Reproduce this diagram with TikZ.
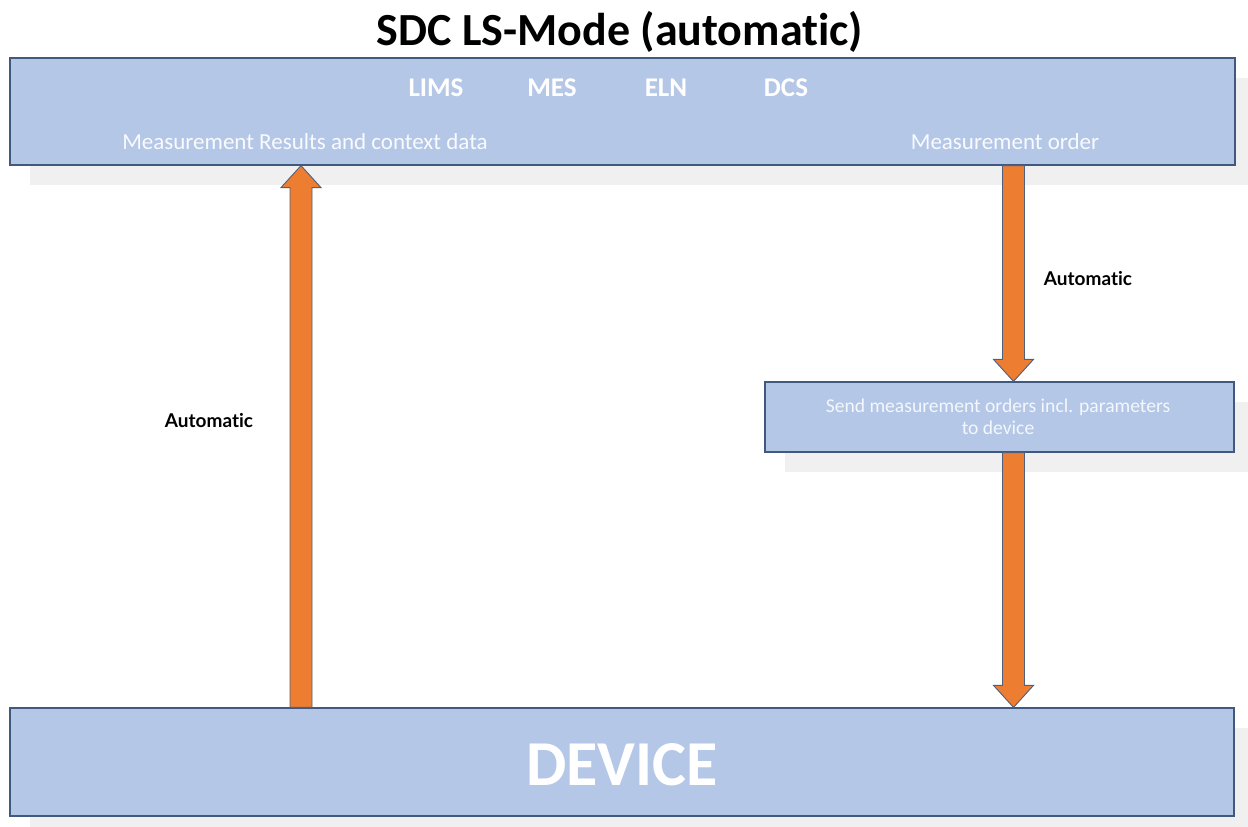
\documentclass[tikz,border=0pt]{standalone}
\usepackage{fontspec}
\setmainfont{Carlito}[Ligatures=CommonOff]
\newfontfamily\lblfont{Lato}[Ligatures=CommonOff]
\usetikzlibrary{calc,shadows}

\definecolor{boxblue}{HTML}{B4C7E7}
\definecolor{boxline}{HTML}{41587F}
\definecolor{arrorange}{HTML}{ED7D31}
\definecolor{arrline}{HTML}{4F5F7C}
\definecolor{shade}{HTML}{F0F0F0}

\tikzset{
  layer/.style={draw=boxline,line width=1.2pt,fill=boxblue,
    drop shadow={shadow xshift=20pt,shadow yshift=-20pt,fill=shade,opacity=1}},
  fat/.style={draw=arrline,line width=0.9pt,fill=arrorange,line join=miter},
  sysname/.style={text=white,font=\bfseries\fontsize{27}{31}\selectfont},
  inbox/.style={text=white!92!boxblue,font=\fontsize{23}{27}\selectfont},
  autolbl/.style={font=\lblfont\bfseries\fontsize{19}{22}\selectfont}
}

% block arrow, tip at the second point
\newcommand{\fatarrow}[2]{%
  \draw[fat] let \p1=(#1), \p2=(#2), \n1={sign(\y2-\y1)*22} in
    ({\x1-11pt},\y1) -- ({\x1-11pt},{\y2-(\n1)}) -- ({\x1-20pt},{\y2-(\n1)})
    -- (\x1,\y2) -- ({\x1+20pt},{\y2-(\n1)}) -- ({\x1+11pt},{\y2-(\n1)})
    -- ({\x1+11pt},\y1) -- cycle;}

\begin{document}
\begin{tikzpicture}[x=1pt,y=-1pt]
\useasboundingbox (0,0) rectangle (1248,827);
\clip (0,0) rectangle (1248,827);

\node[font=\bfseries\fontsize{46}{52}\selectfont] (title) at (620,32) {SDC LS-Mode (automatic)};

\node[layer,minimum width=1225,minimum height=107] (sdc) at (622.5,111.5) {};
\node[layer,minimum width=469,minimum height=70] (order) at (999.5,417) {};
\node[layer,minimum width=1224,minimum height=108] (device) at (622,762) {};

\node[sysname] (lims) at (436,88) {LIMS};
\node[sysname] (mes) at (552,88) {MES};
\node[sysname] (eln) at (666,88) {ELN};
\node[sysname] (dcs) at (786,88) {DCS};
\node[inbox] (results) at (305,142) {Measurement Results and context data};
\node[inbox] (morder) at (1005,142) {Measurement order};
\node[align=center,text=white!85!boxblue,font=\fontsize{19.6}{22}\selectfont] (send) at (998,417)
  {Send measurement orders incl. parameters\\to device};
\node[text=white,font=\bfseries\fontsize{64}{70}\selectfont] (devlbl) at (622,765) {DEVICE};

\coordinate (upx) at (301,0);
\coordinate (dnx) at (1013.5,0);
\fatarrow{device.north -| upx}{sdc.south -| upx}
\fatarrow{sdc.south -| dnx}{order.north -| dnx}
\fatarrow{order.south -| dnx}{device.north -| dnx}

\node[autolbl] (autoup) at (209,421) {Automatic};
\node[autolbl] (autodn) at (1088,279) {Automatic};
\end{tikzpicture}
\end{document}
